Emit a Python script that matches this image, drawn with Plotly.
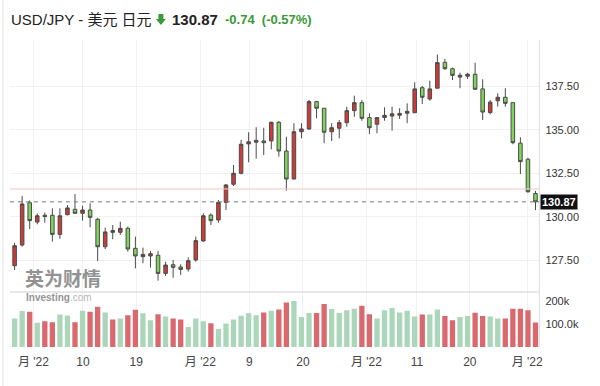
import plotly.graph_objects as go

# ---------------- data (USD/JPY daily, 27 Apr - 2 Aug 2022) ----------------
opens = [127.20, 128.39, 130.82, 129.71, 130.10, 130.10, 129.00, 130.13, 130.44, 130.21,
         130.40, 129.87, 128.29, 129.22, 129.12, 129.35, 128.20, 127.72, 127.76, 127.80,
         126.76, 127.26, 127.13, 127.01, 127.53, 128.62, 130.11, 129.83, 130.84, 131.88,
         132.51, 134.20, 134.30, 134.37, 134.37, 135.44, 133.79, 132.18, 134.90, 135.06,
         136.63, 136.25, 134.90, 135.10, 135.42, 136.11, 136.57, 135.71, 135.33, 135.72,
         135.80, 135.85, 135.96, 135.99, 137.43, 136.78, 137.40, 138.89, 138.52, 138.04,
         138.09, 138.20, 137.36, 136.00, 136.68, 136.88, 136.57, 134.24, 133.32, 131.35]
highs = [128.52, 131.20, 130.95, 130.21, 130.25, 130.50, 130.50, 130.69, 131.32, 130.65,
         130.79, 129.95, 129.39, 129.54, 129.73, 129.44, 128.87, 128.24, 128.05, 128.05,
         127.43, 127.53, 127.28, 127.68, 128.87, 130.21, 130.21, 130.98, 131.90, 132.99,
         134.43, 134.87, 135.16, 135.13, 135.48, 135.52, 134.61, 135.39, 135.39, 136.72,
         136.68, 136.25, 135.39, 135.57, 136.34, 136.97, 136.72, 135.96, 135.73, 136.30,
         136.34, 136.25, 136.53, 137.74, 137.53, 137.83, 139.33, 139.08, 138.58, 138.29,
         138.29, 138.87, 137.91, 136.72, 137.11, 137.40, 136.57, 134.58, 133.40, 131.50]
lows = [126.95, 128.30, 129.31, 129.58, 129.67, 128.58, 128.74, 130.10, 130.20, 129.79,
        129.41, 127.47, 128.16, 128.72, 128.97, 128.01, 127.05, 127.34, 127.09, 126.34,
        126.61, 126.51, 126.67, 126.86, 127.43, 128.58, 129.54, 129.67, 130.40, 131.78,
        132.45, 133.14, 133.35, 133.56, 133.89, 133.47, 131.51, 132.18, 134.52, 135.00,
        135.67, 134.24, 134.37, 134.52, 135.19, 135.76, 135.53, 134.77, 134.81, 135.53,
        134.96, 135.63, 135.39, 135.99, 136.49, 136.68, 137.40, 138.45, 137.87, 137.40,
        137.93, 137.30, 135.57, 135.90, 136.34, 136.34, 134.18, 132.47, 131.40, 130.40]
closes = [128.35, 130.75, 129.79, 130.07, 130.03, 129.00, 130.07, 130.52, 130.21, 130.40,
          129.98, 128.29, 129.14, 129.12, 129.35, 128.16, 127.76, 127.85, 127.89, 126.76,
          127.24, 127.11, 126.99, 127.49, 128.64, 130.07, 129.79, 130.84, 131.84, 132.51,
          134.18, 134.32, 134.40, 134.27, 135.44, 133.79, 132.18, 134.90, 135.06, 136.63,
          136.25, 134.87, 135.13, 135.42, 136.11, 136.57, 135.67, 135.13, 135.71, 135.84,
          135.93, 135.95, 136.07, 137.36, 136.88, 137.36, 138.87, 138.52, 138.14, 138.14,
          138.20, 137.34, 136.03, 136.60, 136.88, 136.53, 134.27, 133.18, 131.45, 130.87]
volumes = [125000, 158000, 155000, 107000, 113000, 109000, 143000, 139000, 109000, 159000,
           155000, 177000, 152000, 121000, 125000, 140000, 164000, 148000, 118000, 144000,
           134000, 125000, 121000, 88000, 125000, 113000, 104000, 79000, 103000, 121000,
           137000, 148000, 140000, 152000, 159000, 165000, 196000, 202000, 132000, 150000,
           150000, 189000, 167000, 150000, 162000, 168000, 181000, 144000, 125000, 162000,
           172000, 152000, 159000, 134000, 143000, 143000, 165000, 136000, 118000, 132000,
           136000, 151000, 136000, 134000, 125000, 125000, 168000, 168000, 162000, 108000]

x_tick_pos = [2.5, 9.05, 16.1, 24.6, 31.1, 38.2, 46.6, 53.3, 60.3, 67.9]
x_tick_text = ["月 '22", "10", "19", "月 '22", "9", "20", "月 '22", "11", "20", "月 '22"]
price_ticks = [127.5, 130.0, 132.5, 135.0, 137.5]
vol_tickvals = [100000, 200000]
vol_ticktext = ["100.0k", "200k"]

title_text = "USD/JPY - 美元 日元"
last_price = 130.87
prev_close = 131.61
change = -0.74
change_pct = -0.57

# ---------------- helpers ----------------
W, H = 600, 386
def px(x):
    return x / W
def py(y):
    return 1 - y / H

FONT = "Liberation Sans, Arial, Noto Sans CJK SC, sans-serif"
RED = "#cd3b37"
GREEN = "#7fd45c"
EDGE = "#4a4a4a"
VOL_UP = "#abd6b9"
VOL_DN = "#d9696e"
TXT_GREEN = "#3a9a37"

x = list(range(len(opens)))
vol_colors = [VOL_UP if c >= o else VOL_DN for o, c in zip(opens, closes)]

X0, X1 = 10, 543
step, first = 7.6, 14.7
xr = [(X0 - first) / step, (X1 - first) / step]

fig = go.Figure()
fig.add_trace(go.Candlestick(
    x=x, open=opens, high=highs, low=lows, close=closes,
    xaxis="x", yaxis="y",
    increasing=dict(fillcolor=RED, line=dict(color=EDGE, width=1)),
    decreasing=dict(fillcolor=GREEN, line=dict(color=EDGE, width=1)),
    whiskerwidth=0, showlegend=False, hoverinfo="skip",
))
fig.add_trace(go.Bar(
    x=x, y=volumes, marker=dict(color=vol_colors, line=dict(width=0)),
    xaxis="x2", yaxis="y2", showlegend=False, hoverinfo="skip",
))

grid = "#f1f1f1"
fig.update_layout(
    width=W, height=H,
    margin=dict(l=0, r=0, t=0, b=0),
    paper_bgcolor="white", plot_bgcolor="white",
    hovermode=False, showlegend=False,
    boxgap=0.33, bargap=0.3,
    font=dict(family=FONT, color="#333"),
    xaxis=dict(domain=[px(X0), px(X1)], range=xr, anchor="y",
               tickvals=x_tick_pos, showticklabels=False, showgrid=True,
               gridcolor=grid, zeroline=False, showline=False,
               rangeslider=dict(visible=False)),
    yaxis=dict(domain=[py(292), py(40)], range=[125.69, 140.17], anchor="x",
               side="right", tickvals=price_ticks, tickformat=".2f",
               showgrid=True, gridcolor=grid, zeroline=False, showline=False,
               tickfont=dict(size=11, color="#333", family=FONT),
               ticklabelstandoff=5),
    xaxis2=dict(domain=[px(X0), px(X1)], range=xr, anchor="y2",
                tickvals=x_tick_pos, ticktext=x_tick_text, showgrid=True,
                gridcolor=grid, zeroline=False, showline=False,
                tickfont=dict(size=12, color="#444", family=FONT),
                ticklabelstandoff=6),
    yaxis2=dict(domain=[py(347), py(292)], range=[0, 242000], anchor="x2",
                side="right", tickvals=vol_tickvals, ticktext=vol_ticktext,
                showgrid=False, zeroline=False, showline=False,
                tickfont=dict(size=11, color="#333", family=FONT),
                ticklabelstandoff=5),
)

shapes = [
    # left card border
    dict(type="line", xref="paper", yref="paper", x0=px(3), x1=px(3), y0=0, y1=1,
         line=dict(color="#e2e2e2", width=1)),
    # right axis line
    dict(type="line", xref="paper", yref="paper", x0=px(X1), x1=px(X1), y0=py(347), y1=py(40),
         line=dict(color="#dcdcdc", width=1)),
    # price/volume separator
    dict(type="line", xref="paper", yref="paper", x0=px(X0), x1=px(X1), y0=py(292), y1=py(292),
         line=dict(color="#cfcfcf", width=1)),
    # previous close line
    dict(type="line", xref="paper", yref="y", x0=px(X0), x1=px(X1), y0=prev_close, y1=prev_close,
         line=dict(color="#f2c6c6", width=1)),
    # last price dashed line
    dict(type="line", xref="paper", yref="y", x0=px(X0), x1=px(X1), y0=last_price, y1=last_price,
         line=dict(color="#777777", width=1, dash="4px,4px")),
    # green down arrow in header
    dict(type="path", xref="paper", yref="paper",
         path=(f"M {px(159.5)} {py(14)} L {px(164.5)} {py(14)} L {px(164.5)} {py(19)} "
               f"L {px(167)} {py(19)} L {px(162)} {py(25)} L {px(157)} {py(19)} "
               f"L {px(159.5)} {py(19)} Z"),
         fillcolor=TXT_GREEN, line=dict(width=0)),
]
fig.update_layout(shapes=shapes)

annotations = [
    dict(text=title_text, xref="paper", yref="paper", x=px(9), y=py(20),
         xanchor="left", yanchor="middle", showarrow=False,
         font=dict(size=15, color="#222", family=FONT)),
    dict(text=f"<b>{last_price:.2f}</b>", xref="paper", yref="paper", x=px(171), y=py(20),
         xanchor="left", yanchor="middle", showarrow=False,
         font=dict(size=15, color="#222", family=FONT)),
    dict(text=f"<b>{change:+.2f}  ({change_pct:+.2f}%)</b>", xref="paper", yref="paper",
         x=px(224), y=py(20), xanchor="left", yanchor="middle", showarrow=False,
         font=dict(size=13, color=TXT_GREEN, family=FONT)),
    # last price badge
    dict(text=f"<b>{last_price:.2f}</b>", xref="paper", yref="y", x=px(X1 + 1), y=last_price,
         xanchor="left", yanchor="middle", showarrow=False, bgcolor="#111111",
         borderpad=1, font=dict(size=11, color="white", family=FONT)),
    # watermark
    dict(text="<b>英为财情</b>", xref="paper", yref="paper", x=px(24), y=py(277),
         xanchor="left", yanchor="middle", showarrow=False, borderpad=0,
         font=dict(size=19, color="#929292", family="Noto Sans CJK SC, sans-serif")),
    dict(text="<b>Investing</b><span style='color:#b5b5b5'>.com</span>", xref="paper",
         yref="paper", x=px(25), y=py(297.5),
         xanchor="left", yanchor="middle", showarrow=False, borderpad=0,
         font=dict(size=10, color="#959595", family=FONT)),
]
fig.update_layout(annotations=annotations)

fig.write_html("out.html", config={"displayModeBar": False},
               post_script="document.body.style.margin='0';")
